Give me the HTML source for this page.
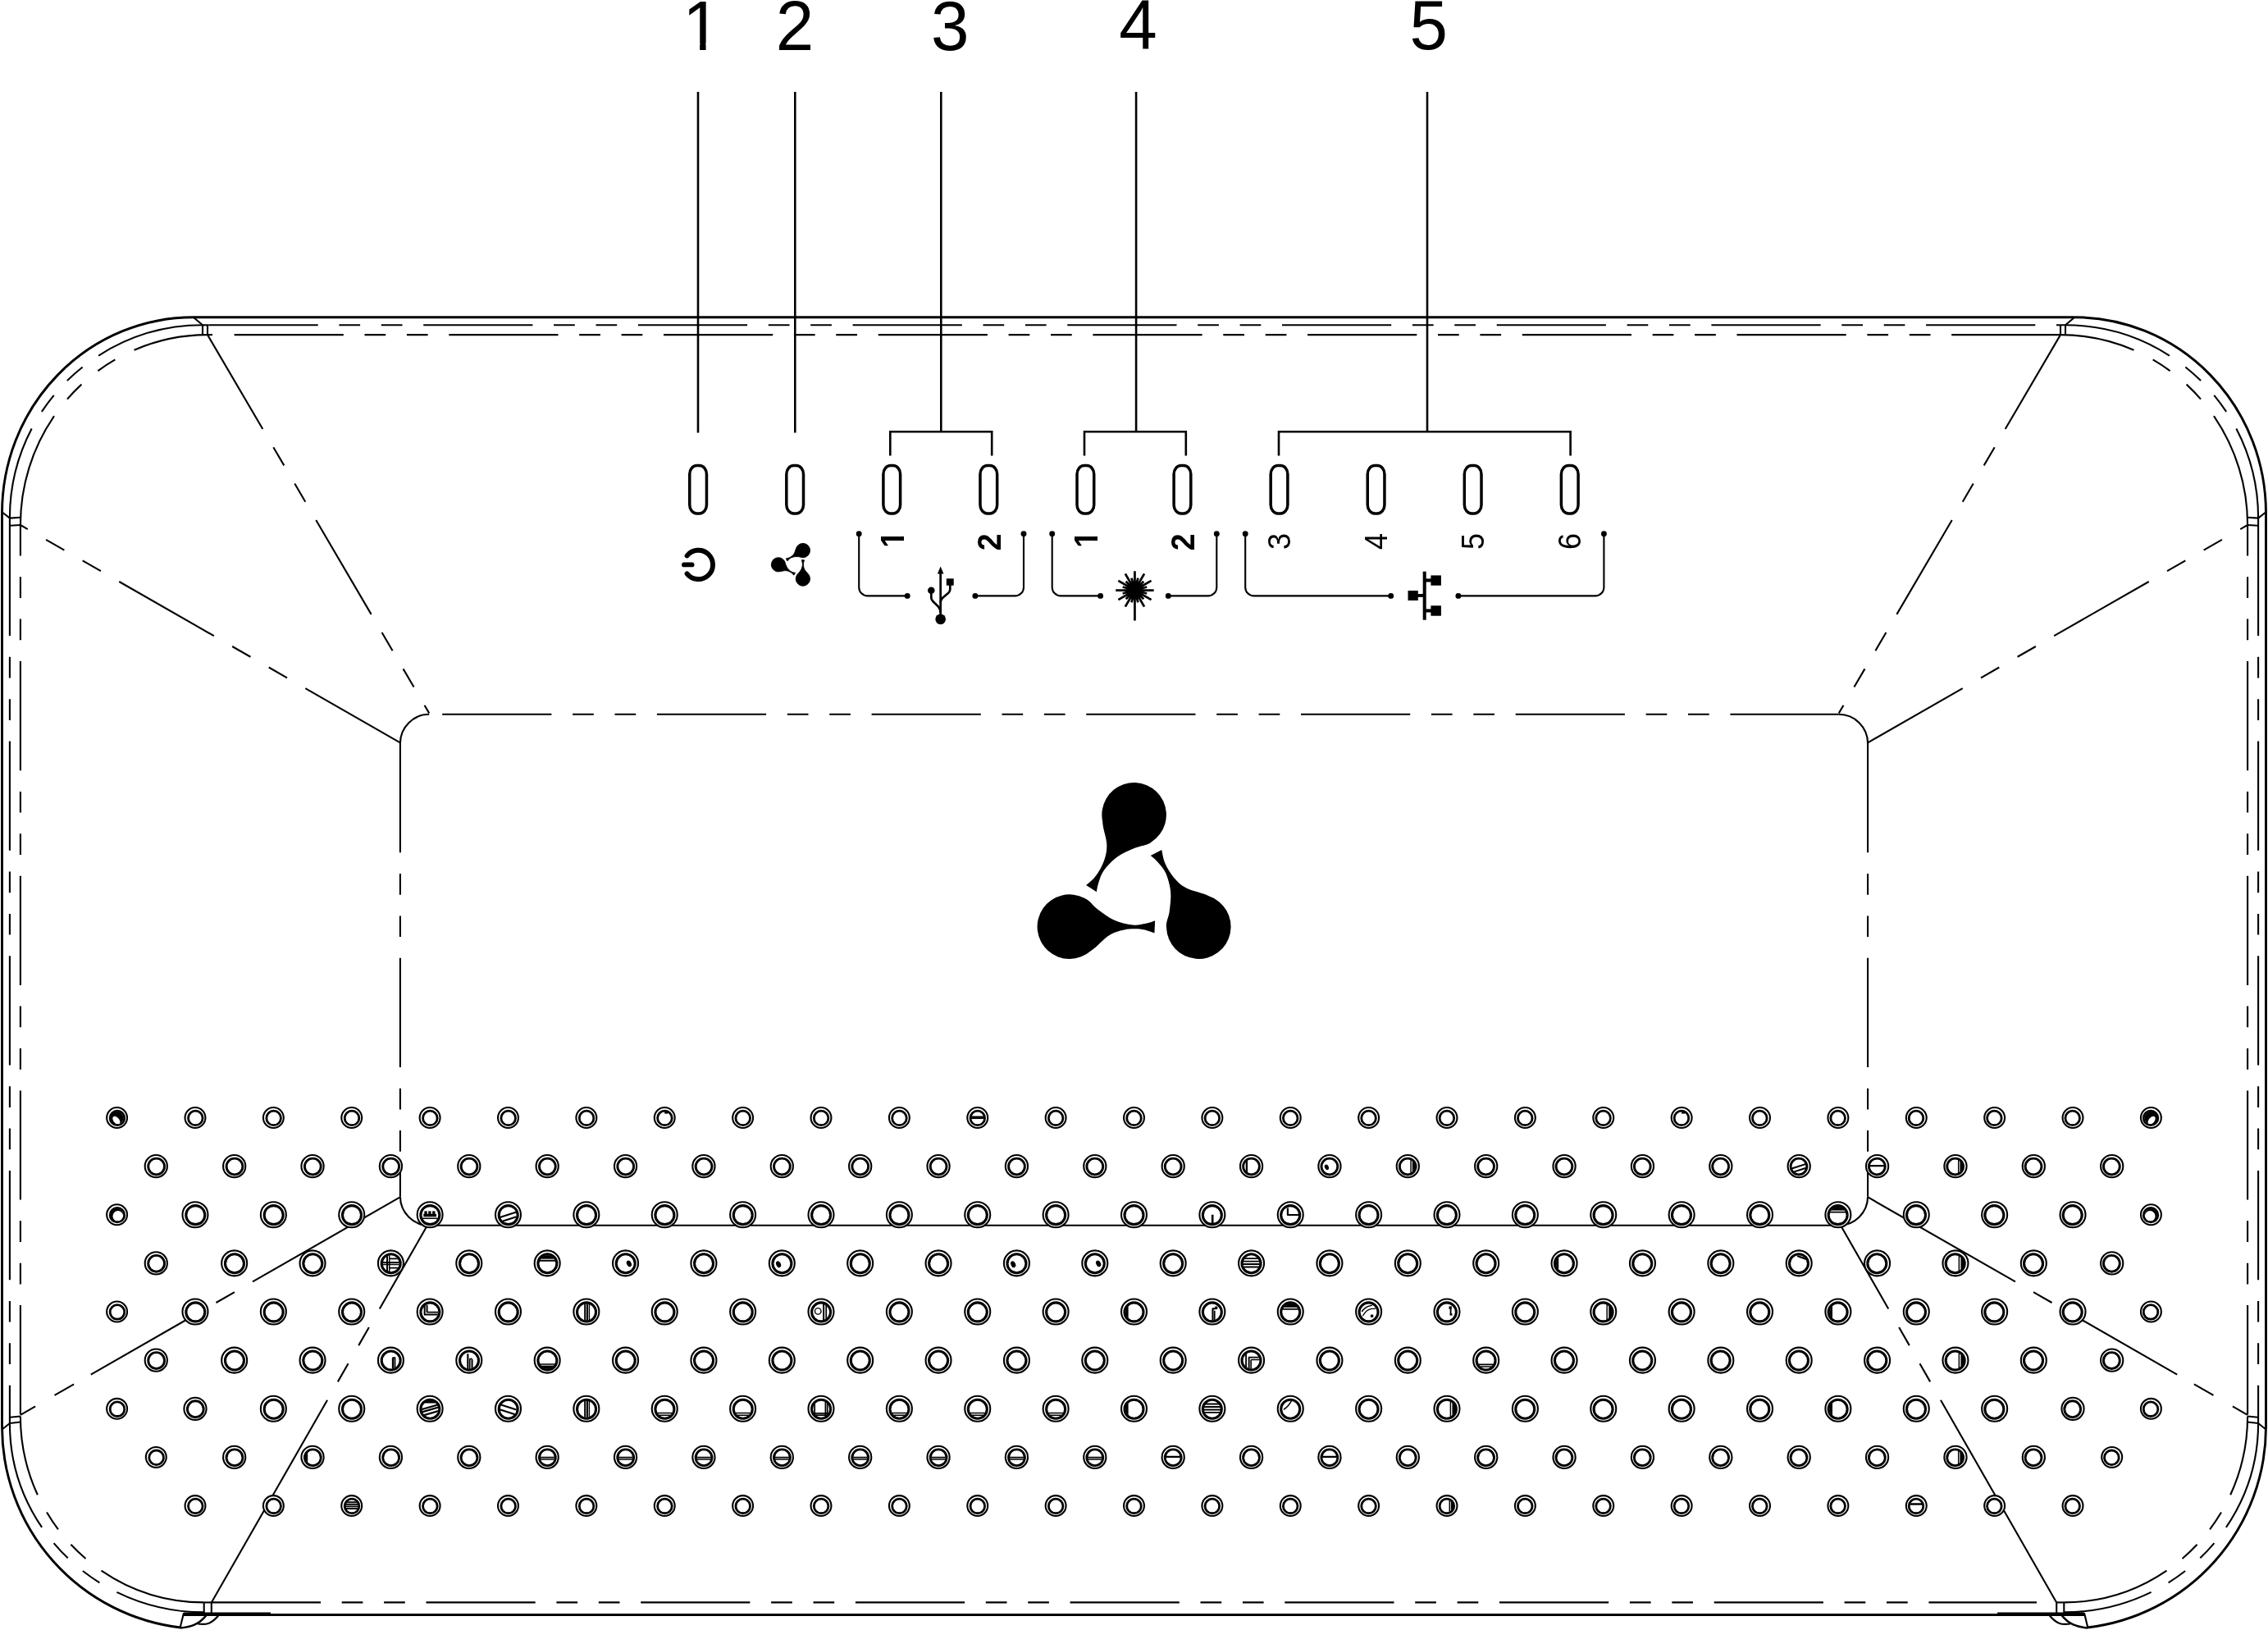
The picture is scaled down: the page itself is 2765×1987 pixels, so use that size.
<!DOCTYPE html>
<html lang="en"><head><meta charset="utf-8"><title>Front panel LEDs</title>
<style>html,body{margin:0;padding:0;background:#fff}svg{display:block}text{font-family:"Liberation Sans",sans-serif;fill:#000;stroke:none}</style></head><body>
<svg width="2765" height="1987" viewBox="0 0 2765 1987" fill="none" stroke="#000" stroke-linecap="butt" stroke-linejoin="round">
<rect x="0" y="0" width="2765" height="1987" fill="#fff" stroke="none"/>
<g id="body">
<path d="M 2529.2 386.7 L 235.8 386.7 A 233.3 238.7 0 0 0 2.5 625.4 L 2.5 1739.3 A 246.4 246.4 0 0 0 220 1984" stroke-width="2.9" fill="none"/>
<path d="M 2529.2 386.7 A 233.3 238.7 0 0 1 2762.5 625.4 L 2762.5 1739.3 A 246.4 246.4 0 0 1 2545 1984" stroke-width="2.9" fill="none"/>
<line x1="224" y1="1968.4" x2="2541" y2="1968.4" stroke-width="3"/>
<line x1="224" y1="1966.4" x2="330" y2="1966.4" stroke-width="2"/>
<line x1="2541" y1="1966.4" x2="2435" y2="1966.4" stroke-width="2"/>
<path d="M 224 1966.3 L 219.6 1984.3" stroke-width="2.1" fill="none"/>
<path d="M 220 1984.5 C 233 1983.5 243 1980 252 1968.5" stroke-width="2.6" fill="none"/>
<path d="M 241 1979.5 C 252 1981 258 1979.5 267 1968.5" stroke-width="2.2" fill="none"/>
<path d="M 2541 1966.3 L 2545.4 1984.3" stroke-width="2.1" fill="none"/>
<path d="M 2545 1984.5 C 2532 1983.5 2522 1980 2513 1968.5" stroke-width="2.6" fill="none"/>
<path d="M 2524 1979.5 C 2513 1981 2507 1979.5 2498 1968.5" stroke-width="2.2" fill="none"/>
<line x1="247" y1="396.3" x2="254.5" y2="396.3" stroke-width="2.1"/>
<line x1="254.5" y1="396.3" x2="2518" y2="396.3" stroke-width="2.1" stroke-dasharray="133.2 25.7 25.7 25.7 25.7 25.7"/>
<line x1="253" y1="408.1" x2="259" y2="408.1" stroke-width="2.1"/>
<line x1="285.6" y1="408.1" x2="2512" y2="408.1" stroke-width="2.1" stroke-dasharray="133.2 25.7 25.7 25.7 25.7 25.7"/>
<line x1="257.8" y1="1953.4" x2="2483" y2="1953.4" stroke-width="2.1" stroke-dasharray="133.2 25.7 25.7 25.7 25.7 25.7"/>
<line x1="235.8" y1="386.7" x2="247" y2="396.3" stroke-width="2.1"/>
<line x1="247" y1="396.3" x2="247" y2="408.1" stroke-width="2.1"/>
<line x1="253" y1="396.3" x2="253" y2="408.1" stroke-width="2.1"/>
<line x1="2.5" y1="624.2" x2="11.9" y2="631.6" stroke-width="2.1"/>
<path d="M 11.9 631.6 L 24.9 630.8" stroke-width="2.1" fill="none"/>
<path d="M 11.9 640.8 L 24.9 640" stroke-width="2.1" fill="none"/>
<line x1="2.5" y1="1742.5" x2="11.9" y2="1735" stroke-width="2.1"/>
<path d="M 11.9 1735 L 24.9 1733.5" stroke-width="2.1" fill="none"/>
<path d="M 11.9 1727.7 L 24.9 1726.5" stroke-width="2.1" fill="none"/>
<line x1="248.7" y1="1953.4" x2="248.7" y2="1966.5" stroke-width="2.1"/>
<line x1="257.8" y1="1953.4" x2="257.8" y2="1966.5" stroke-width="2.1"/>
<line x1="248.7" y1="1953.4" x2="257.8" y2="1953.4" stroke-width="2.1"/>
<path d="M 247 396.3 A 235.1 235.3 0 0 0 11.9 631.6" stroke-width="2.1" fill="none" stroke-dasharray="134 24 25 24 25 24 140"/>
<path d="M 253 408.1 A 228.1 231.9 0 0 0 24.9 640" stroke-width="2.1" fill="none" stroke-dasharray="92 26 25 26 25 26 150"/>
<line x1="11.9" y1="631.6" x2="11.9" y2="642" stroke-width="2.1"/>
<line x1="11.9" y1="631.6" x2="11.9" y2="1735" stroke-width="2.1" stroke-dasharray="133.2 25.7 25.7 25.7 25.7 25.7" stroke-dashoffset="251.4"/>
<line x1="24.9" y1="640" x2="24.9" y2="1726.5" stroke-width="2.1" stroke-dasharray="133.2 25.7 25.7 25.7 25.7 25.7" stroke-dashoffset="95.7"/>
<path d="M 248.7 1965.4 A 236.8 230.4 0 0 1 11.9 1735" stroke-width="2.1" fill="none" stroke-dasharray="110 24 25 24 25 24 160"/>
<path d="M 248.7 1953.4 A 223.8 226.9 0 0 1 24.9 1726.5" stroke-width="2.1" fill="none" stroke-dasharray="133 24 25 24 25 24 120"/>
<line x1="2529.2" y1="386.7" x2="2518" y2="396.3" stroke-width="2.1"/>
<line x1="2518" y1="396.3" x2="2518" y2="408.1" stroke-width="2.1"/>
<line x1="2512" y1="396.3" x2="2512" y2="408.1" stroke-width="2.1"/>
<line x1="2762.5" y1="624.2" x2="2753.1" y2="631.6" stroke-width="2.1"/>
<path d="M 2753.1 631.6 L 2740.1 630.8" stroke-width="2.1" fill="none"/>
<path d="M 2753.1 640.8 L 2740.1 640" stroke-width="2.1" fill="none"/>
<line x1="2762.5" y1="1742.5" x2="2753.1" y2="1735" stroke-width="2.1"/>
<path d="M 2753.1 1735 L 2740.1 1733.5" stroke-width="2.1" fill="none"/>
<path d="M 2753.1 1727.7 L 2740.1 1726.5" stroke-width="2.1" fill="none"/>
<line x1="2516.3" y1="1953.4" x2="2516.3" y2="1966.5" stroke-width="2.1"/>
<line x1="2507.2" y1="1953.4" x2="2507.2" y2="1966.5" stroke-width="2.1"/>
<line x1="2516.3" y1="1953.4" x2="2507.2" y2="1953.4" stroke-width="2.1"/>
<path d="M 2518 396.3 A 235.1 235.3 0 0 1 2753.1 631.6" stroke-width="2.1" fill="none" stroke-dasharray="134 24 25 24 25 24 140"/>
<path d="M 2512 408.1 A 228.1 231.9 0 0 1 2740.1 640" stroke-width="2.1" fill="none" stroke-dasharray="92 26 25 26 25 26 150"/>
<line x1="2753.1" y1="631.6" x2="2753.1" y2="642" stroke-width="2.1"/>
<line x1="2753.1" y1="631.6" x2="2753.1" y2="1735" stroke-width="2.1" stroke-dasharray="133.2 25.7 25.7 25.7 25.7 25.7" stroke-dashoffset="251.4"/>
<line x1="2740.1" y1="640" x2="2740.1" y2="1726.5" stroke-width="2.1" stroke-dasharray="133.2 25.7 25.7 25.7 25.7 25.7" stroke-dashoffset="95.7"/>
<path d="M 2516.3 1965.4 A 236.8 230.4 0 0 0 2753.1 1735" stroke-width="2.1" fill="none" stroke-dasharray="110 24 25 24 25 24 160"/>
<path d="M 2516.3 1953.4 A 223.8 226.9 0 0 0 2740.1 1726.5" stroke-width="2.1" fill="none" stroke-dasharray="133 24 25 24 25 24 120"/>
</g>
<g id="inner">
<line x1="539.2" y1="870.8" x2="2241.8" y2="870.8" stroke-width="2.1" stroke-dasharray="133.2 25.7 25.7 25.7 25.7 25.7"/>
<path d="M 487.9 906.1 A 35.3 35.3 0 0 1 523.2 870.8" stroke-width="2.1" fill="none"/>
<line x1="487.9" y1="906.1" x2="487.9" y2="1458.5" stroke-width="2.1" stroke-dasharray="133.2 25.7 25.7 25.7 25.7 25.7"/>
<path d="M 2277.1 906.1 A 35.3 35.3 0 0 0 2241.8 870.8" stroke-width="2.1" fill="none"/>
<line x1="2277.1" y1="906.1" x2="2277.1" y2="1458.5" stroke-width="2.1" stroke-dasharray="133.2 25.7 25.7 25.7 25.7 25.7"/>
<path d="M 487.9 1458.5 A 35.3 35.3 0 0 0 523.2 1493.8 L 2241.8 1493.8 A 35.3 35.3 0 0 0 2277.1 1458.5" stroke-width="2.1" fill="none"/>
</g>
<g id="diag">
<path d="M 253 408.1 L 320.32 523.03 M 333.31 545.21 L 346.3 567.39 M 359.29 589.56 L 372.28 611.74 M 385.27 633.91 L 452.59 748.85 M 465.58 771.03 L 478.57 793.2 M 491.56 815.38 L 504.55 837.55 M 517.54 859.73 L 523.2 869.4" stroke-width="2.1" fill="none"/>
<path d="M 487.9 905.3 L 372.33 839.08 M 350.03 826.3 L 327.73 813.52 M 305.43 800.75 L 283.13 787.97 M 260.83 775.19 L 145.26 708.97 M 122.96 696.19 L 100.67 683.41 M 78.37 670.64 L 56.07 657.86 M 33.77 645.08 L 24.9 640" stroke-width="2.1" fill="none"/>
<path d="M 488.1 1459.2 L 308.04 1562.45 M 285.95 1575.12 L 263.45 1588.01 M 229.96 1607.22 L 110.79 1675.55 M 90.09 1687.42 L 66.49 1700.95 M 43.1 1714.36 L 24.9 1724.8" stroke-width="2.1" fill="none"/>
<path d="M 257.8 1953.4 L 399.03 1706.77 M 411.85 1684.39 L 424.52 1662.26 M 437.19 1640.13 L 449.86 1618 M 462.76 1595.49 L 520.3 1495" stroke-width="2.1" fill="none"/>
<path d="M 2512 408.1 L 2444.68 523.03 M 2431.69 545.21 L 2418.7 567.39 M 2405.71 589.56 L 2392.72 611.74 M 2379.73 633.91 L 2312.41 748.85 M 2299.42 771.03 L 2286.43 793.2 M 2273.44 815.38 L 2260.45 837.55 M 2247.46 859.73 L 2241.8 869.4" stroke-width="2.1" fill="none"/>
<path d="M 2277.1 905.3 L 2392.67 839.08 M 2414.97 826.3 L 2437.27 813.52 M 2459.57 800.75 L 2481.87 787.97 M 2504.17 775.19 L 2619.74 708.97 M 2642.04 696.19 L 2664.33 683.41 M 2686.63 670.64 L 2708.93 657.86 M 2731.23 645.08 L 2740.1 640" stroke-width="2.1" fill="none"/>
<path d="M 2276.9 1459.2 L 2456.96 1562.45 M 2479.05 1575.12 L 2501.55 1588.01 M 2535.04 1607.22 L 2654.21 1675.55 M 2674.91 1687.42 L 2698.51 1700.95 M 2721.9 1714.36 L 2740.1 1724.8" stroke-width="2.1" fill="none"/>
<path d="M 2507.2 1953.4 L 2365.97 1706.77 M 2353.15 1684.39 L 2340.48 1662.26 M 2327.81 1640.13 L 2315.14 1618 M 2302.24 1595.49 L 2244.7 1495" stroke-width="2.1" fill="none"/>
</g>
<g id="holes">
<g stroke-width="2.1" fill="#fff"><circle cx="142.6" cy="1362.5" r="12.45"/><circle cx="237.98" cy="1362.5" r="12.45"/><circle cx="333.35" cy="1362.5" r="12.45"/><circle cx="428.73" cy="1362.5" r="12.45"/><circle cx="524.11" cy="1362.5" r="12.45"/><circle cx="619.48" cy="1362.5" r="12.45"/><circle cx="714.86" cy="1362.5" r="12.45"/><circle cx="810.24" cy="1362.5" r="12.45"/><circle cx="905.62" cy="1362.5" r="12.45"/><circle cx="1000.99" cy="1362.5" r="12.45"/><circle cx="1096.37" cy="1362.5" r="12.45"/><circle cx="1191.75" cy="1362.5" r="12.45"/><circle cx="1287.12" cy="1362.5" r="12.45"/><circle cx="1382.5" cy="1362.5" r="12.45"/><circle cx="1477.88" cy="1362.5" r="12.45"/><circle cx="1573.25" cy="1362.5" r="12.45"/><circle cx="1668.63" cy="1362.5" r="12.45"/><circle cx="1764.01" cy="1362.5" r="12.45"/><circle cx="1859.38" cy="1362.5" r="12.45"/><circle cx="1954.76" cy="1362.5" r="12.45"/><circle cx="2050.14" cy="1362.5" r="12.45"/><circle cx="2145.52" cy="1362.5" r="12.45"/><circle cx="2240.89" cy="1362.5" r="12.45"/><circle cx="2336.27" cy="1362.5" r="12.45"/><circle cx="2431.65" cy="1362.5" r="12.45"/><circle cx="2527.02" cy="1362.5" r="12.45"/><circle cx="2622.4" cy="1362.5" r="12.45"/><circle cx="190.29" cy="1421.63" r="13.6"/><circle cx="285.67" cy="1421.63" r="13.6"/><circle cx="381.04" cy="1421.63" r="13.6"/><circle cx="476.42" cy="1421.63" r="13.6"/><circle cx="571.8" cy="1421.63" r="13.6"/><circle cx="667.17" cy="1421.63" r="13.6"/><circle cx="762.55" cy="1421.63" r="13.6"/><circle cx="857.93" cy="1421.63" r="13.6"/><circle cx="953.3" cy="1421.63" r="13.6"/><circle cx="1048.68" cy="1421.63" r="13.6"/><circle cx="1144.06" cy="1421.63" r="13.6"/><circle cx="1239.43" cy="1421.63" r="13.6"/><circle cx="1334.81" cy="1421.63" r="13.6"/><circle cx="1430.19" cy="1421.63" r="13.6"/><circle cx="1525.57" cy="1421.63" r="13.6"/><circle cx="1620.94" cy="1421.63" r="13.6"/><circle cx="1716.32" cy="1421.63" r="13.6"/><circle cx="1811.7" cy="1421.63" r="13.6"/><circle cx="1907.07" cy="1421.63" r="13.6"/><circle cx="2002.45" cy="1421.63" r="13.6"/><circle cx="2097.83" cy="1421.63" r="13.6"/><circle cx="2193.2" cy="1421.63" r="13.6"/><circle cx="2288.58" cy="1421.63" r="13.6"/><circle cx="2383.96" cy="1421.63" r="13.6"/><circle cx="2479.33" cy="1421.63" r="13.6"/><circle cx="2574.71" cy="1421.63" r="13.6"/><circle cx="142.6" cy="1480.76" r="12.45"/><circle cx="237.98" cy="1480.76" r="15.5"/><circle cx="333.35" cy="1480.76" r="15.5"/><circle cx="428.73" cy="1480.76" r="15.5"/><circle cx="524.11" cy="1480.76" r="15.5"/><circle cx="619.48" cy="1480.76" r="15.5"/><circle cx="714.86" cy="1480.76" r="15.5"/><circle cx="810.24" cy="1480.76" r="15.5"/><circle cx="905.62" cy="1480.76" r="15.5"/><circle cx="1000.99" cy="1480.76" r="15.5"/><circle cx="1096.37" cy="1480.76" r="15.5"/><circle cx="1191.75" cy="1480.76" r="15.5"/><circle cx="1287.12" cy="1480.76" r="15.5"/><circle cx="1382.5" cy="1480.76" r="15.5"/><circle cx="1477.88" cy="1480.76" r="15.5"/><circle cx="1573.25" cy="1480.76" r="15.5"/><circle cx="1668.63" cy="1480.76" r="15.5"/><circle cx="1764.01" cy="1480.76" r="15.5"/><circle cx="1859.38" cy="1480.76" r="15.5"/><circle cx="1954.76" cy="1480.76" r="15.5"/><circle cx="2050.14" cy="1480.76" r="15.5"/><circle cx="2145.52" cy="1480.76" r="15.5"/><circle cx="2240.89" cy="1480.76" r="15.5"/><circle cx="2336.27" cy="1480.76" r="15.5"/><circle cx="2431.65" cy="1480.76" r="15.5"/><circle cx="2527.02" cy="1480.76" r="15.5"/><circle cx="2622.4" cy="1480.76" r="12.45"/><circle cx="190.29" cy="1539.89" r="13.6"/><circle cx="285.67" cy="1539.89" r="15.5"/><circle cx="381.04" cy="1539.89" r="15.5"/><circle cx="476.42" cy="1539.89" r="15.5"/><circle cx="571.8" cy="1539.89" r="15.5"/><circle cx="667.17" cy="1539.89" r="15.5"/><circle cx="762.55" cy="1539.89" r="15.5"/><circle cx="857.93" cy="1539.89" r="15.5"/><circle cx="953.3" cy="1539.89" r="15.5"/><circle cx="1048.68" cy="1539.89" r="15.5"/><circle cx="1144.06" cy="1539.89" r="15.5"/><circle cx="1239.43" cy="1539.89" r="15.5"/><circle cx="1334.81" cy="1539.89" r="15.5"/><circle cx="1430.19" cy="1539.89" r="15.5"/><circle cx="1525.57" cy="1539.89" r="15.5"/><circle cx="1620.94" cy="1539.89" r="15.5"/><circle cx="1716.32" cy="1539.89" r="15.5"/><circle cx="1811.7" cy="1539.89" r="15.5"/><circle cx="1907.07" cy="1539.89" r="15.5"/><circle cx="2002.45" cy="1539.89" r="15.5"/><circle cx="2097.83" cy="1539.89" r="15.5"/><circle cx="2193.2" cy="1539.89" r="15.5"/><circle cx="2288.58" cy="1539.89" r="15.5"/><circle cx="2383.96" cy="1539.89" r="15.5"/><circle cx="2479.33" cy="1539.89" r="15.5"/><circle cx="2574.71" cy="1539.89" r="13.6"/><circle cx="142.6" cy="1599.02" r="12.45"/><circle cx="237.98" cy="1599.02" r="15.5"/><circle cx="333.35" cy="1599.02" r="15.5"/><circle cx="428.73" cy="1599.02" r="15.5"/><circle cx="524.11" cy="1599.02" r="15.5"/><circle cx="619.48" cy="1599.02" r="15.5"/><circle cx="714.86" cy="1599.02" r="15.5"/><circle cx="810.24" cy="1599.02" r="15.5"/><circle cx="905.62" cy="1599.02" r="15.5"/><circle cx="1000.99" cy="1599.02" r="15.5"/><circle cx="1096.37" cy="1599.02" r="15.5"/><circle cx="1191.75" cy="1599.02" r="15.5"/><circle cx="1287.12" cy="1599.02" r="15.5"/><circle cx="1382.5" cy="1599.02" r="15.5"/><circle cx="1477.88" cy="1599.02" r="15.5"/><circle cx="1573.25" cy="1599.02" r="15.5"/><circle cx="1668.63" cy="1599.02" r="15.5"/><circle cx="1764.01" cy="1599.02" r="15.5"/><circle cx="1859.38" cy="1599.02" r="15.5"/><circle cx="1954.76" cy="1599.02" r="15.5"/><circle cx="2050.14" cy="1599.02" r="15.5"/><circle cx="2145.52" cy="1599.02" r="15.5"/><circle cx="2240.89" cy="1599.02" r="15.5"/><circle cx="2336.27" cy="1599.02" r="15.5"/><circle cx="2431.65" cy="1599.02" r="15.5"/><circle cx="2527.02" cy="1599.02" r="15.5"/><circle cx="2622.4" cy="1599.02" r="12.45"/><circle cx="190.29" cy="1658.15" r="13.6"/><circle cx="285.67" cy="1658.15" r="15.5"/><circle cx="381.04" cy="1658.15" r="15.5"/><circle cx="476.42" cy="1658.15" r="15.5"/><circle cx="571.8" cy="1658.15" r="15.5"/><circle cx="667.17" cy="1658.15" r="15.5"/><circle cx="762.55" cy="1658.15" r="15.5"/><circle cx="857.93" cy="1658.15" r="15.5"/><circle cx="953.3" cy="1658.15" r="15.5"/><circle cx="1048.68" cy="1658.15" r="15.5"/><circle cx="1144.06" cy="1658.15" r="15.5"/><circle cx="1239.43" cy="1658.15" r="15.5"/><circle cx="1334.81" cy="1658.15" r="15.5"/><circle cx="1430.19" cy="1658.15" r="15.5"/><circle cx="1525.57" cy="1658.15" r="15.5"/><circle cx="1620.94" cy="1658.15" r="15.5"/><circle cx="1716.32" cy="1658.15" r="15.5"/><circle cx="1811.7" cy="1658.15" r="15.5"/><circle cx="1907.07" cy="1658.15" r="15.5"/><circle cx="2002.45" cy="1658.15" r="15.5"/><circle cx="2097.83" cy="1658.15" r="15.5"/><circle cx="2193.2" cy="1658.15" r="15.5"/><circle cx="2288.58" cy="1658.15" r="15.5"/><circle cx="2383.96" cy="1658.15" r="15.5"/><circle cx="2479.33" cy="1658.15" r="15.5"/><circle cx="2574.71" cy="1658.15" r="13.6"/><circle cx="142.6" cy="1717.28" r="12.45"/><circle cx="237.98" cy="1717.28" r="13.6"/><circle cx="333.35" cy="1717.28" r="15.5"/><circle cx="428.73" cy="1717.28" r="15.5"/><circle cx="524.11" cy="1717.28" r="15.5"/><circle cx="619.48" cy="1717.28" r="15.5"/><circle cx="714.86" cy="1717.28" r="15.5"/><circle cx="810.24" cy="1717.28" r="15.5"/><circle cx="905.62" cy="1717.28" r="15.5"/><circle cx="1000.99" cy="1717.28" r="15.5"/><circle cx="1096.37" cy="1717.28" r="15.5"/><circle cx="1191.75" cy="1717.28" r="15.5"/><circle cx="1287.12" cy="1717.28" r="15.5"/><circle cx="1382.5" cy="1717.28" r="15.5"/><circle cx="1477.88" cy="1717.28" r="15.5"/><circle cx="1573.25" cy="1717.28" r="15.5"/><circle cx="1668.63" cy="1717.28" r="15.5"/><circle cx="1764.01" cy="1717.28" r="15.5"/><circle cx="1859.38" cy="1717.28" r="15.5"/><circle cx="1954.76" cy="1717.28" r="15.5"/><circle cx="2050.14" cy="1717.28" r="15.5"/><circle cx="2145.52" cy="1717.28" r="15.5"/><circle cx="2240.89" cy="1717.28" r="15.5"/><circle cx="2336.27" cy="1717.28" r="15.5"/><circle cx="2431.65" cy="1717.28" r="15.5"/><circle cx="2527.02" cy="1717.28" r="13.6"/><circle cx="2622.4" cy="1717.28" r="12.45"/><circle cx="190.29" cy="1776.41" r="12.45"/><circle cx="285.67" cy="1776.41" r="13.6"/><circle cx="381.04" cy="1776.41" r="13.6"/><circle cx="476.42" cy="1776.41" r="13.6"/><circle cx="571.8" cy="1776.41" r="13.6"/><circle cx="667.17" cy="1776.41" r="13.6"/><circle cx="762.55" cy="1776.41" r="13.6"/><circle cx="857.93" cy="1776.41" r="13.6"/><circle cx="953.3" cy="1776.41" r="13.6"/><circle cx="1048.68" cy="1776.41" r="13.6"/><circle cx="1144.06" cy="1776.41" r="13.6"/><circle cx="1239.43" cy="1776.41" r="13.6"/><circle cx="1334.81" cy="1776.41" r="13.6"/><circle cx="1430.19" cy="1776.41" r="13.6"/><circle cx="1525.57" cy="1776.41" r="13.6"/><circle cx="1620.94" cy="1776.41" r="13.6"/><circle cx="1716.32" cy="1776.41" r="13.6"/><circle cx="1811.7" cy="1776.41" r="13.6"/><circle cx="1907.07" cy="1776.41" r="13.6"/><circle cx="2002.45" cy="1776.41" r="13.6"/><circle cx="2097.83" cy="1776.41" r="13.6"/><circle cx="2193.2" cy="1776.41" r="13.6"/><circle cx="2288.58" cy="1776.41" r="13.6"/><circle cx="2383.96" cy="1776.41" r="13.6"/><circle cx="2479.33" cy="1776.41" r="13.6"/><circle cx="2574.71" cy="1776.41" r="12.45"/><circle cx="237.98" cy="1835.54" r="12.45"/><circle cx="333.35" cy="1835.54" r="12.45"/><circle cx="428.73" cy="1835.54" r="12.45"/><circle cx="524.11" cy="1835.54" r="12.45"/><circle cx="619.48" cy="1835.54" r="12.45"/><circle cx="714.86" cy="1835.54" r="12.45"/><circle cx="810.24" cy="1835.54" r="12.45"/><circle cx="905.62" cy="1835.54" r="12.45"/><circle cx="1000.99" cy="1835.54" r="12.45"/><circle cx="1096.37" cy="1835.54" r="12.45"/><circle cx="1191.75" cy="1835.54" r="12.45"/><circle cx="1287.12" cy="1835.54" r="12.45"/><circle cx="1382.5" cy="1835.54" r="12.45"/><circle cx="1477.88" cy="1835.54" r="12.45"/><circle cx="1573.25" cy="1835.54" r="12.45"/><circle cx="1668.63" cy="1835.54" r="12.45"/><circle cx="1764.01" cy="1835.54" r="12.45"/><circle cx="1859.38" cy="1835.54" r="12.45"/><circle cx="1954.76" cy="1835.54" r="12.45"/><circle cx="2050.14" cy="1835.54" r="12.45"/><circle cx="2145.52" cy="1835.54" r="12.45"/><circle cx="2240.89" cy="1835.54" r="12.45"/><circle cx="2336.27" cy="1835.54" r="12.45"/><circle cx="2431.65" cy="1835.54" r="12.45"/><circle cx="2527.02" cy="1835.54" r="12.45"/></g>
<defs><clipPath id="cs"><circle cx="0" cy="0.4" r="7.8"/></clipPath><clipPath id="cm"><circle cx="0" cy="0.4" r="8.85"/></clipPath><clipPath id="cb"><circle cx="0" cy="0.4" r="10.35"/></clipPath></defs>
<g id="inside"><g transform="translate(142.6 1362.5)" clip-path="url(#cs)"><rect x="-10.85" y="-10.85" width="21.7" height="21.7" fill="#000" stroke="none"/><ellipse cx="-2.63" cy="2.01" rx="3.41" ry="5.73" transform="rotate(-40)" fill="#fff" stroke="none"/></g><g transform="translate(810.24 1362.5)" clip-path="url(#cs)"><rect x="0" y="-10.85" width="3.87" height="5.97" fill="#000" stroke="none"/></g><g transform="translate(1191.75 1362.5)" clip-path="url(#cs)"><rect x="-10.85" y="-2.01" width="21.7" height="3.56" fill="#000" stroke="none"/></g><g transform="translate(2050.14 1362.5)" clip-path="url(#cs)"><rect x="0" y="-10.85" width="3.87" height="5.97" fill="#000" stroke="none"/></g><g transform="translate(2622.4 1362.5)" clip-path="url(#cs)"><rect x="-10.85" y="-10.85" width="21.7" height="21.7" fill="#000" stroke="none"/><ellipse cx="2.63" cy="2.01" rx="3.41" ry="5.73" transform="rotate(40)" fill="#fff" stroke="none"/></g><g transform="translate(1525.57 1421.63)" clip-path="url(#cm)"><path d="M -5.66 -12.39 L -5.66 12.39" stroke-width="2.32"/></g><g transform="translate(1620.94 1421.63)" clip-path="url(#cm)"><ellipse cx="-3.72" cy="-0.44" rx="2.39" ry="3.45" transform="rotate(-25)" fill="#000" stroke="none"/></g><g transform="translate(1716.32 1421.63)" clip-path="url(#cm)"><rect x="5.49" y="-12.39" width="12.39" height="24.77" fill="#000" stroke="none"/><path d="M 3.72 -12.39 L 3.72 12.39" stroke-width="1.45"/></g><g transform="translate(2193.2 1421.63)" clip-path="url(#cm)"><path d="M -12.39 3.98 L 12.39 -3.98" stroke-width="2.03"/><path d="M -12.39 8.85 L 12.39 0.88" stroke-width="2.03"/></g><g transform="translate(2288.58 1421.63)" clip-path="url(#cm)"><path d="M -12.39 -0.53 L 12.39 -0.53" stroke-width="2.32"/></g><g transform="translate(2383.96 1421.63)" clip-path="url(#cm)"><rect x="5.49" y="-12.39" width="12.39" height="24.77" fill="#000" stroke="none"/><path d="M 3.72 -12.39 L 3.72 12.39" stroke-width="1.45"/></g><g transform="translate(142.6 1480.76)" clip-path="url(#cs)"><rect x="-10.85" y="-10.85" width="21.7" height="21.7" fill="#000" stroke="none"/><circle cx="1.24" cy="1.7" r="6.35" fill="#fff" stroke="none"/></g><g transform="translate(524.11 1480.76)" clip-path="url(#cb)"><rect x="-7.81" y="-1.04" width="15.63" height="3.54" fill="#000" stroke="none"/><rect x="-6.77" y="-4.38" width="3.33" height="3.54" fill="#000" stroke="none"/><rect x="-1.88" y="-4.38" width="3.33" height="3.54" fill="#000" stroke="none"/><rect x="3.02" y="-4.38" width="3.33" height="3.54" fill="#000" stroke="none"/><path d="M -14.59 4.58 L 14.59 4.58" stroke-width="1.45"/></g><g transform="translate(619.48 1480.76)" clip-path="url(#cb)"><path d="M -14.59 4.69 L 14.59 -4.69" stroke-width="2.03"/><path d="M -14.59 10.42 L 14.59 1.04" stroke-width="2.03"/></g><g transform="translate(1477.88 1480.76)" clip-path="url(#cb)"><path d="M 0.31 0 L 0.31 14.59" stroke-width="2.61"/></g><g transform="translate(1573.25 1480.76)" clip-path="url(#cb)"><path d="M -3.33 -8.34 L -3.33 0.52" stroke-width="2.17"/><path d="M -4.06 0.21 L 14.59 0.21" stroke-width="2.17"/></g><g transform="translate(2240.89 1480.76)" clip-path="url(#cb)"><rect x="-14.59" y="-14.59" width="29.17" height="9.38" fill="#000" stroke="none"/><path d="M -14.59 -3.13 L 14.59 -3.13" stroke-width="1.89"/></g><g transform="translate(2622.4 1480.76)" clip-path="url(#cs)"><rect x="-10.85" y="-10.85" width="21.7" height="21.7" fill="#000" stroke="none"/><circle cx="-1.24" cy="1.7" r="6.35" fill="#fff" stroke="none"/></g><g transform="translate(476.42 1539.89)" clip-path="url(#cb)"><path d="M -14.59 -0.83 L 14.59 -0.83" stroke-width="2.03"/><path d="M -14.59 1.67 L 14.59 1.67" stroke-width="1.45"/><path d="M -4.38 -14.59 L -4.38 14.59" stroke-width="2.03"/><path d="M -1.67 -14.59 L -1.67 14.59" stroke-width="1.45"/><path d="M -1.67 -5.63 L 14.59 -5.63" stroke-width="1.74"/><path d="M -1.67 5.83 L 14.59 5.83" stroke-width="1.74"/></g><g transform="translate(667.17 1539.89)" clip-path="url(#cb)"><rect x="-14.59" y="-14.59" width="29.17" height="9.38" fill="#000" stroke="none"/><path d="M -14.59 -3.13 L 14.59 -3.13" stroke-width="1.89"/></g><g transform="translate(762.55 1539.89)" clip-path="url(#cb)"><ellipse cx="3.75" cy="2.29" rx="2.81" ry="4.06" transform="rotate(-25)" fill="#000" stroke="none"/></g><g transform="translate(953.3 1539.89)" clip-path="url(#cb)"><ellipse cx="-4.38" cy="-0.52" rx="2.81" ry="4.06" transform="rotate(-25)" fill="#000" stroke="none"/></g><g transform="translate(1239.43 1539.89)" clip-path="url(#cb)"><ellipse cx="-4.38" cy="-0.52" rx="2.81" ry="4.06" transform="rotate(-25)" fill="#000" stroke="none"/></g><g transform="translate(1334.81 1539.89)" clip-path="url(#cb)"><ellipse cx="3.75" cy="2.29" rx="2.81" ry="4.06" transform="rotate(-25)" fill="#000" stroke="none"/></g><g transform="translate(1525.57 1539.89)" clip-path="url(#cb)"><path d="M -14.59 -5.73 L 14.59 -5.73" stroke-width="1.89"/><path d="M -14.59 -2.29 L 14.59 -2.29" stroke-width="1.89"/><path d="M -14.59 1.15 L 14.59 1.15" stroke-width="1.89"/><path d="M -14.59 4.58 L 14.59 4.58" stroke-width="1.89"/></g><g transform="translate(1907.07 1539.89)" clip-path="url(#cb)"><rect x="-14.59" y="-14.59" width="7.71" height="29.17" fill="#000" stroke="none"/></g><g transform="translate(2193.2 1539.89)" clip-path="url(#cb)"><path d="M -2.08 -8.86 L 9.38 -4.69" stroke-width="2.32"/></g><g transform="translate(2383.96 1539.89)" clip-path="url(#cb)"><rect x="6.46" y="-14.59" width="14.59" height="29.17" fill="#000" stroke="none"/><path d="M 4.38 -14.59 L 4.38 14.59" stroke-width="1.45"/></g><g transform="translate(524.11 1599.02)" clip-path="url(#cb)"><path d="M -6.46 -8.34 L -6.46 3.54" stroke-width="2.03"/><path d="M -3.54 -8.34 L -3.54 1.04" stroke-width="2.03"/><path d="M -7.19 3.54 L 14.59 3.54" stroke-width="2.03"/><path d="M -3.54 0.63 L 14.59 0.63" stroke-width="1.74"/></g><g transform="translate(714.86 1599.02)" clip-path="url(#cb)"><path d="M -1.67 -14.59 L -1.67 14.59" stroke-width="2.03"/><path d="M 1.04 -14.59 L 1.04 14.59" stroke-width="2.03"/><path d="M 3.54 -14.59 L 3.54 14.59" stroke-width="1.45"/></g><g transform="translate(1000.99 1599.02)" clip-path="url(#cb)"><circle cx="-3.75" cy="-0.63" r="3.75" stroke-width="1.4"/><path d="M 3.13 -14.59 L 3.13 14.59" stroke-width="2.03"/><path d="M 6.25 -14.59 L 6.25 14.59" stroke-width="1.74"/></g><g transform="translate(1382.5 1599.02)" clip-path="url(#cb)"><rect x="-14.59" y="-14.59" width="7.71" height="29.17" fill="#000" stroke="none"/></g><g transform="translate(1477.88 1599.02)" clip-path="url(#cb)"><path d="M 0.63 -3.75 L 0.63 14.59" stroke-width="2.17"/><path d="M 2.92 -1.25 L 2.92 14.59" stroke-width="1.59"/><path d="M 0 -3.75 L 4.79 -3.75" stroke-width="2.17"/><rect x="3.33" y="-6.46" width="3.13" height="3.33" fill="#000" stroke="none"/></g><g transform="translate(1573.25 1599.02)" clip-path="url(#cb)"><rect x="-14.59" y="-14.59" width="29.17" height="9.38" fill="#000" stroke="none"/><path d="M -14.59 -3.13 L 14.59 -3.13" stroke-width="1.89"/></g><g transform="translate(1668.63 1599.02)" clip-path="url(#cb)"><path d="M -8.34 0 Q -4.17 -6.77 4.17 -7.81" stroke-width="1.6"/><path d="M -7.29 5.21 Q -3.13 -2.6 3.65 -3.65 L 8.34 -3.65" stroke-width="1.4"/><rect x="2.29" y="3.54" width="3.33" height="3.33" fill="#000" stroke="none"/></g><g transform="translate(1764.01 1599.02)" clip-path="url(#cb)"><rect x="2.5" y="-6.67" width="3.33" height="3.54" fill="#000" stroke="none"/><path d="M 4.58 -3.33 L 4.58 2.6" stroke-width="1.89"/><rect x="3.54" y="2.08" width="2.92" height="2.5" fill="#000" stroke="none"/></g><g transform="translate(1954.76 1599.02)" clip-path="url(#cb)"><rect x="6.46" y="-14.59" width="14.59" height="29.17" fill="#000" stroke="none"/><path d="M 4.38 -14.59 L 4.38 14.59" stroke-width="1.45"/></g><g transform="translate(2240.89 1599.02)" clip-path="url(#cb)"><rect x="-14.59" y="-14.59" width="7.71" height="29.17" fill="#000" stroke="none"/></g><g transform="translate(476.42 1658.15)" clip-path="url(#cb)"><path d="M 2.5 -2.71 L 2.5 14.59" stroke-width="2.17"/><path d="M 5 -2.71 L 5 14.59" stroke-width="1.89"/><path d="M 1.88 -2.92 L 5.83 -2.92" stroke-width="2.17"/></g><g transform="translate(571.8 1658.15)" clip-path="url(#cb)"><path d="M -1.46 -7.81 L -1.46 14.59" stroke-width="2.17"/><path d="M 0.94 -2.08 L 0.94 14.59" stroke-width="1.59"/><path d="M 3.75 -0.83 L 3.75 14.59" stroke-width="2.03"/><path d="M 0.94 -1.25 Q 3.54 -3.33 3.75 0" stroke-width="1.4"/></g><g transform="translate(667.17 1658.15)" clip-path="url(#cb)"><rect x="-14.59" y="6.46" width="29.17" height="14.59" fill="#000" stroke="none"/><path d="M -14.59 4.79 L 14.59 4.79" stroke-width="1.45"/></g><g transform="translate(1525.57 1658.15)" clip-path="url(#cb)"><path d="M -6.46 -14.59 L -6.46 14.59" stroke-width="1.89"/><path d="M -2.92 -3.54 L -2.92 14.59" stroke-width="1.89"/><path d="M -3.54 -3.54 L 14.59 -3.54" stroke-width="1.89"/><path d="M -0.42 -0.63 L -0.42 14.59" stroke-width="1.59"/><path d="M -0.42 -0.63 L 14.59 -0.63" stroke-width="1.59"/></g><g transform="translate(1811.7 1658.15)" clip-path="url(#cb)"><path d="M -14.59 5.21 L 14.59 5.21" stroke-width="1.59"/><path d="M -14.59 7.92 L 14.59 7.92" stroke-width="1.59"/></g><g transform="translate(2383.96 1658.15)" clip-path="url(#cb)"><rect x="6.46" y="-14.59" width="14.59" height="29.17" fill="#000" stroke="none"/><path d="M 4.38 -14.59 L 4.38 14.59" stroke-width="1.45"/></g><g transform="translate(524.11 1717.28)" clip-path="url(#cb)"><path d="M -14.59 2.08 L 14.59 -6.25" stroke-width="2.32"/><path d="M -14.59 5.42 L 14.59 -2.92" stroke-width="2.32"/><path d="M -14.59 9.9 L 14.59 1.56" stroke-width="2.32"/><rect x="-14.59" y="-14.59" width="29.17" height="7.81" fill="#000" stroke="none"/></g><g transform="translate(619.48 1717.28)" clip-path="url(#cb)"><path d="M -14.59 -6.77 L 14.59 2.6" stroke-width="2.03"/><path d="M -14.59 -0.52 L 14.59 8.86" stroke-width="2.03"/></g><g transform="translate(714.86 1717.28)" clip-path="url(#cb)"><path d="M -1.67 -14.59 L -1.67 14.59" stroke-width="2.03"/><path d="M 1.04 -14.59 L 1.04 14.59" stroke-width="2.03"/><path d="M 3.54 -14.59 L 3.54 14.59" stroke-width="1.45"/></g><g transform="translate(810.24 1717.28)" clip-path="url(#cb)"><path d="M -14.59 5.21 L 14.59 5.21" stroke-width="1.59"/><path d="M -14.59 7.92 L 14.59 7.92" stroke-width="1.59"/></g><g transform="translate(905.62 1717.28)" clip-path="url(#cb)"><path d="M -14.59 5.21 L 14.59 5.21" stroke-width="1.59"/><path d="M -14.59 7.92 L 14.59 7.92" stroke-width="1.59"/></g><g transform="translate(1000.99 1717.28)" clip-path="url(#cb)"><path d="M -14.59 5.63 L 14.59 5.63" stroke-width="1.74"/><path d="M -14.59 7.92 L 14.59 7.92" stroke-width="1.74"/><path d="M 5.42 -14.59 L 5.42 14.59" stroke-width="1.74"/><path d="M 7.71 -14.59 L 7.71 14.59" stroke-width="1.74"/><path d="M -7.81 -14.59 L -7.81 14.59" stroke-width="1.74"/></g><g transform="translate(1096.37 1717.28)" clip-path="url(#cb)"><path d="M -14.59 5.21 L 14.59 5.21" stroke-width="1.59"/><path d="M -14.59 7.92 L 14.59 7.92" stroke-width="1.59"/></g><g transform="translate(1191.75 1717.28)" clip-path="url(#cb)"><path d="M -14.59 5.21 L 14.59 5.21" stroke-width="1.59"/><path d="M -14.59 7.92 L 14.59 7.92" stroke-width="1.59"/></g><g transform="translate(1287.12 1717.28)" clip-path="url(#cb)"><path d="M -14.59 5.21 L 14.59 5.21" stroke-width="1.59"/><path d="M -14.59 7.92 L 14.59 7.92" stroke-width="1.59"/></g><g transform="translate(1382.5 1717.28)" clip-path="url(#cb)"><rect x="-14.59" y="-14.59" width="7.71" height="29.17" fill="#000" stroke="none"/></g><g transform="translate(1477.88 1717.28)" clip-path="url(#cb)"><path d="M -14.59 -5.73 L 14.59 -5.73" stroke-width="1.89"/><path d="M -14.59 -2.29 L 14.59 -2.29" stroke-width="1.89"/><path d="M -14.59 1.15 L 14.59 1.15" stroke-width="1.89"/><path d="M -14.59 4.58 L 14.59 4.58" stroke-width="1.89"/></g><g transform="translate(1573.25 1717.28)" clip-path="url(#cb)"><path d="M -8.34 1.04 Q -2.08 -3.13 1.04 -9.38" stroke-width="1.5"/></g><g transform="translate(1764.01 1717.28)" clip-path="url(#cb)"><rect x="6.46" y="-14.59" width="14.59" height="29.17" fill="#000" stroke="none"/><path d="M 4.38 -14.59 L 4.38 14.59" stroke-width="1.45"/></g><g transform="translate(2240.89 1717.28)" clip-path="url(#cb)"><rect x="-14.59" y="-14.59" width="7.71" height="29.17" fill="#000" stroke="none"/></g><g transform="translate(381.04 1776.41)" clip-path="url(#cm)"><rect x="-12.39" y="-12.39" width="6.55" height="24.77" fill="#000" stroke="none"/></g><g transform="translate(667.17 1776.41)" clip-path="url(#cm)"><path d="M -12.39 0.18 L 12.39 0.18" stroke-width="1.59"/><path d="M -12.39 2.57 L 12.39 2.57" stroke-width="1.59"/></g><g transform="translate(762.55 1776.41)" clip-path="url(#cm)"><path d="M -12.39 0.18 L 12.39 0.18" stroke-width="1.59"/><path d="M -12.39 2.57 L 12.39 2.57" stroke-width="1.59"/></g><g transform="translate(857.93 1776.41)" clip-path="url(#cm)"><path d="M -12.39 0.18 L 12.39 0.18" stroke-width="1.59"/><path d="M -12.39 2.57 L 12.39 2.57" stroke-width="1.59"/></g><g transform="translate(953.3 1776.41)" clip-path="url(#cm)"><path d="M -12.39 0.18 L 12.39 0.18" stroke-width="1.59"/><path d="M -12.39 2.57 L 12.39 2.57" stroke-width="1.59"/></g><g transform="translate(1048.68 1776.41)" clip-path="url(#cm)"><path d="M -12.39 0.18 L 12.39 0.18" stroke-width="1.59"/><path d="M -12.39 2.57 L 12.39 2.57" stroke-width="1.59"/></g><g transform="translate(1144.06 1776.41)" clip-path="url(#cm)"><path d="M -12.39 0.18 L 12.39 0.18" stroke-width="1.59"/><path d="M -12.39 2.57 L 12.39 2.57" stroke-width="1.59"/></g><g transform="translate(1239.43 1776.41)" clip-path="url(#cm)"><path d="M -12.39 0.18 L 12.39 0.18" stroke-width="1.59"/><path d="M -12.39 2.57 L 12.39 2.57" stroke-width="1.59"/></g><g transform="translate(1334.81 1776.41)" clip-path="url(#cm)"><path d="M -12.39 0.18 L 12.39 0.18" stroke-width="1.59"/><path d="M -12.39 2.57 L 12.39 2.57" stroke-width="1.59"/></g><g transform="translate(1430.19 1776.41)" clip-path="url(#cm)"><path d="M -12.39 -0.53 L 12.39 -0.53" stroke-width="2.32"/></g><g transform="translate(1620.94 1776.41)" clip-path="url(#cm)"><path d="M -12.39 -0.53 L 12.39 -0.53" stroke-width="2.32"/></g><g transform="translate(2383.96 1776.41)" clip-path="url(#cm)"><rect x="5.49" y="-12.39" width="12.39" height="24.77" fill="#000" stroke="none"/><path d="M 3.72 -12.39 L 3.72 12.39" stroke-width="1.45"/></g><g transform="translate(428.73 1835.54)" clip-path="url(#cs)"><path d="M -10.85 -4.26 L 10.85 -4.26" stroke-width="1.89"/><path d="M -10.85 -1.7 L 10.85 -1.7" stroke-width="1.89"/><path d="M -10.85 0.85 L 10.85 0.85" stroke-width="1.89"/><path d="M -10.85 3.41 L 10.85 3.41" stroke-width="1.89"/></g><g transform="translate(1764.01 1835.54)" clip-path="url(#cs)"><rect x="4.8" y="-10.85" width="10.85" height="21.7" fill="#000" stroke="none"/><path d="M 3.25 -10.85 L 3.25 10.85" stroke-width="1.45"/></g><g transform="translate(2336.27 1835.54)" clip-path="url(#cs)"><path d="M -10.85 -2.01 L 10.85 -2.01" stroke-width="2.32"/></g></g>
<g stroke-width="2.8"><circle cx="142.95" cy="1362.9" r="8.8"/><circle cx="238.3" cy="1362.9" r="8.8"/><circle cx="333.65" cy="1362.9" r="8.8"/><circle cx="429" cy="1362.9" r="8.8"/><circle cx="524.35" cy="1362.9" r="8.8"/><circle cx="619.7" cy="1362.9" r="8.8"/><circle cx="715.05" cy="1362.9" r="8.8"/><circle cx="810.4" cy="1362.9" r="8.8"/><circle cx="905.75" cy="1362.9" r="8.8"/><circle cx="1001.1" cy="1362.9" r="8.8"/><circle cx="1096.45" cy="1362.9" r="8.8"/><circle cx="1191.8" cy="1362.9" r="8.8"/><circle cx="1287.15" cy="1362.9" r="8.8"/><circle cx="1382.5" cy="1362.9" r="8.8"/><circle cx="1477.85" cy="1362.9" r="8.8"/><circle cx="1573.2" cy="1362.9" r="8.8"/><circle cx="1668.55" cy="1362.9" r="8.8"/><circle cx="1763.9" cy="1362.9" r="8.8"/><circle cx="1859.25" cy="1362.9" r="8.8"/><circle cx="1954.6" cy="1362.9" r="8.8"/><circle cx="2049.95" cy="1362.9" r="8.8"/><circle cx="2145.3" cy="1362.9" r="8.8"/><circle cx="2240.65" cy="1362.9" r="8.8"/><circle cx="2336" cy="1362.9" r="8.8"/><circle cx="2431.35" cy="1362.9" r="8.8"/><circle cx="2526.7" cy="1362.9" r="8.8"/><circle cx="2622.05" cy="1362.9" r="8.8"/><circle cx="142.95" cy="1481.16" r="8.8"/><circle cx="2622.05" cy="1481.16" r="8.8"/><circle cx="142.95" cy="1599.42" r="8.8"/><circle cx="2622.05" cy="1599.42" r="8.8"/><circle cx="142.95" cy="1717.68" r="8.8"/><circle cx="2622.05" cy="1717.68" r="8.8"/><circle cx="190.62" cy="1776.81" r="8.8"/><circle cx="2574.38" cy="1776.81" r="8.8"/><circle cx="238.3" cy="1835.94" r="8.8"/><circle cx="333.65" cy="1835.94" r="8.8"/><circle cx="429" cy="1835.94" r="8.8"/><circle cx="524.35" cy="1835.94" r="8.8"/><circle cx="619.7" cy="1835.94" r="8.8"/><circle cx="715.05" cy="1835.94" r="8.8"/><circle cx="810.4" cy="1835.94" r="8.8"/><circle cx="905.75" cy="1835.94" r="8.8"/><circle cx="1001.1" cy="1835.94" r="8.8"/><circle cx="1096.45" cy="1835.94" r="8.8"/><circle cx="1191.8" cy="1835.94" r="8.8"/><circle cx="1287.15" cy="1835.94" r="8.8"/><circle cx="1382.5" cy="1835.94" r="8.8"/><circle cx="1477.85" cy="1835.94" r="8.8"/><circle cx="1573.2" cy="1835.94" r="8.8"/><circle cx="1668.55" cy="1835.94" r="8.8"/><circle cx="1763.9" cy="1835.94" r="8.8"/><circle cx="1859.25" cy="1835.94" r="8.8"/><circle cx="1954.6" cy="1835.94" r="8.8"/><circle cx="2049.95" cy="1835.94" r="8.8"/><circle cx="2145.3" cy="1835.94" r="8.8"/><circle cx="2240.65" cy="1835.94" r="8.8"/><circle cx="2336" cy="1835.94" r="8.8"/><circle cx="2431.35" cy="1835.94" r="8.8"/><circle cx="2526.7" cy="1835.94" r="8.8"/></g><g stroke-width="2.9"><circle cx="190.62" cy="1422.03" r="9.9"/><circle cx="285.97" cy="1422.03" r="9.9"/><circle cx="381.32" cy="1422.03" r="9.9"/><circle cx="476.67" cy="1422.03" r="9.9"/><circle cx="572.02" cy="1422.03" r="9.9"/><circle cx="667.37" cy="1422.03" r="9.9"/><circle cx="762.72" cy="1422.03" r="9.9"/><circle cx="858.07" cy="1422.03" r="9.9"/><circle cx="953.42" cy="1422.03" r="9.9"/><circle cx="1048.77" cy="1422.03" r="9.9"/><circle cx="1144.12" cy="1422.03" r="9.9"/><circle cx="1239.47" cy="1422.03" r="9.9"/><circle cx="1334.82" cy="1422.03" r="9.9"/><circle cx="1430.18" cy="1422.03" r="9.9"/><circle cx="1525.53" cy="1422.03" r="9.9"/><circle cx="1620.88" cy="1422.03" r="9.9"/><circle cx="1716.23" cy="1422.03" r="9.9"/><circle cx="1811.58" cy="1422.03" r="9.9"/><circle cx="1906.93" cy="1422.03" r="9.9"/><circle cx="2002.28" cy="1422.03" r="9.9"/><circle cx="2097.63" cy="1422.03" r="9.9"/><circle cx="2192.98" cy="1422.03" r="9.9"/><circle cx="2288.33" cy="1422.03" r="9.9"/><circle cx="2383.68" cy="1422.03" r="9.9"/><circle cx="2479.03" cy="1422.03" r="9.9"/><circle cx="2574.38" cy="1422.03" r="9.9"/><circle cx="190.62" cy="1540.29" r="9.9"/><circle cx="2574.38" cy="1540.29" r="9.9"/><circle cx="190.62" cy="1658.55" r="9.9"/><circle cx="2574.38" cy="1658.55" r="9.9"/><circle cx="238.3" cy="1717.68" r="9.9"/><circle cx="2526.7" cy="1717.68" r="9.9"/><circle cx="285.97" cy="1776.81" r="9.9"/><circle cx="381.32" cy="1776.81" r="9.9"/><circle cx="476.67" cy="1776.81" r="9.9"/><circle cx="572.02" cy="1776.81" r="9.9"/><circle cx="667.37" cy="1776.81" r="9.9"/><circle cx="762.72" cy="1776.81" r="9.9"/><circle cx="858.07" cy="1776.81" r="9.9"/><circle cx="953.42" cy="1776.81" r="9.9"/><circle cx="1048.77" cy="1776.81" r="9.9"/><circle cx="1144.12" cy="1776.81" r="9.9"/><circle cx="1239.47" cy="1776.81" r="9.9"/><circle cx="1334.82" cy="1776.81" r="9.9"/><circle cx="1430.18" cy="1776.81" r="9.9"/><circle cx="1525.53" cy="1776.81" r="9.9"/><circle cx="1620.88" cy="1776.81" r="9.9"/><circle cx="1716.23" cy="1776.81" r="9.9"/><circle cx="1811.58" cy="1776.81" r="9.9"/><circle cx="1906.93" cy="1776.81" r="9.9"/><circle cx="2002.28" cy="1776.81" r="9.9"/><circle cx="2097.63" cy="1776.81" r="9.9"/><circle cx="2192.98" cy="1776.81" r="9.9"/><circle cx="2288.33" cy="1776.81" r="9.9"/><circle cx="2383.68" cy="1776.81" r="9.9"/><circle cx="2479.03" cy="1776.81" r="9.9"/></g><g stroke-width="3.1"><circle cx="238.3" cy="1481.16" r="11.5"/><circle cx="333.65" cy="1481.16" r="11.5"/><circle cx="429" cy="1481.16" r="11.5"/><circle cx="524.35" cy="1481.16" r="11.5"/><circle cx="619.7" cy="1481.16" r="11.5"/><circle cx="715.05" cy="1481.16" r="11.5"/><circle cx="810.4" cy="1481.16" r="11.5"/><circle cx="905.75" cy="1481.16" r="11.5"/><circle cx="1001.1" cy="1481.16" r="11.5"/><circle cx="1096.45" cy="1481.16" r="11.5"/><circle cx="1191.8" cy="1481.16" r="11.5"/><circle cx="1287.15" cy="1481.16" r="11.5"/><circle cx="1382.5" cy="1481.16" r="11.5"/><circle cx="1477.85" cy="1481.16" r="11.5"/><circle cx="1573.2" cy="1481.16" r="11.5"/><circle cx="1668.55" cy="1481.16" r="11.5"/><circle cx="1763.9" cy="1481.16" r="11.5"/><circle cx="1859.25" cy="1481.16" r="11.5"/><circle cx="1954.6" cy="1481.16" r="11.5"/><circle cx="2049.95" cy="1481.16" r="11.5"/><circle cx="2145.3" cy="1481.16" r="11.5"/><circle cx="2240.65" cy="1481.16" r="11.5"/><circle cx="2336" cy="1481.16" r="11.5"/><circle cx="2431.35" cy="1481.16" r="11.5"/><circle cx="2526.7" cy="1481.16" r="11.5"/><circle cx="285.97" cy="1540.29" r="11.5"/><circle cx="381.32" cy="1540.29" r="11.5"/><circle cx="476.67" cy="1540.29" r="11.5"/><circle cx="572.02" cy="1540.29" r="11.5"/><circle cx="667.37" cy="1540.29" r="11.5"/><circle cx="762.72" cy="1540.29" r="11.5"/><circle cx="858.07" cy="1540.29" r="11.5"/><circle cx="953.42" cy="1540.29" r="11.5"/><circle cx="1048.77" cy="1540.29" r="11.5"/><circle cx="1144.12" cy="1540.29" r="11.5"/><circle cx="1239.47" cy="1540.29" r="11.5"/><circle cx="1334.82" cy="1540.29" r="11.5"/><circle cx="1430.18" cy="1540.29" r="11.5"/><circle cx="1525.53" cy="1540.29" r="11.5"/><circle cx="1620.88" cy="1540.29" r="11.5"/><circle cx="1716.23" cy="1540.29" r="11.5"/><circle cx="1811.58" cy="1540.29" r="11.5"/><circle cx="1906.93" cy="1540.29" r="11.5"/><circle cx="2002.28" cy="1540.29" r="11.5"/><circle cx="2097.63" cy="1540.29" r="11.5"/><circle cx="2192.98" cy="1540.29" r="11.5"/><circle cx="2288.33" cy="1540.29" r="11.5"/><circle cx="2383.68" cy="1540.29" r="11.5"/><circle cx="2479.03" cy="1540.29" r="11.5"/><circle cx="238.3" cy="1599.42" r="11.5"/><circle cx="333.65" cy="1599.42" r="11.5"/><circle cx="429" cy="1599.42" r="11.5"/><circle cx="524.35" cy="1599.42" r="11.5"/><circle cx="619.7" cy="1599.42" r="11.5"/><circle cx="715.05" cy="1599.42" r="11.5"/><circle cx="810.4" cy="1599.42" r="11.5"/><circle cx="905.75" cy="1599.42" r="11.5"/><circle cx="1001.1" cy="1599.42" r="11.5"/><circle cx="1096.45" cy="1599.42" r="11.5"/><circle cx="1191.8" cy="1599.42" r="11.5"/><circle cx="1287.15" cy="1599.42" r="11.5"/><circle cx="1382.5" cy="1599.42" r="11.5"/><circle cx="1477.85" cy="1599.42" r="11.5"/><circle cx="1573.2" cy="1599.42" r="11.5"/><circle cx="1668.55" cy="1599.42" r="11.5"/><circle cx="1763.9" cy="1599.42" r="11.5"/><circle cx="1859.25" cy="1599.42" r="11.5"/><circle cx="1954.6" cy="1599.42" r="11.5"/><circle cx="2049.95" cy="1599.42" r="11.5"/><circle cx="2145.3" cy="1599.42" r="11.5"/><circle cx="2240.65" cy="1599.42" r="11.5"/><circle cx="2336" cy="1599.42" r="11.5"/><circle cx="2431.35" cy="1599.42" r="11.5"/><circle cx="2526.7" cy="1599.42" r="11.5"/><circle cx="285.97" cy="1658.55" r="11.5"/><circle cx="381.32" cy="1658.55" r="11.5"/><circle cx="476.67" cy="1658.55" r="11.5"/><circle cx="572.02" cy="1658.55" r="11.5"/><circle cx="667.37" cy="1658.55" r="11.5"/><circle cx="762.72" cy="1658.55" r="11.5"/><circle cx="858.07" cy="1658.55" r="11.5"/><circle cx="953.42" cy="1658.55" r="11.5"/><circle cx="1048.77" cy="1658.55" r="11.5"/><circle cx="1144.12" cy="1658.55" r="11.5"/><circle cx="1239.47" cy="1658.55" r="11.5"/><circle cx="1334.82" cy="1658.55" r="11.5"/><circle cx="1430.18" cy="1658.55" r="11.5"/><circle cx="1525.53" cy="1658.55" r="11.5"/><circle cx="1620.88" cy="1658.55" r="11.5"/><circle cx="1716.23" cy="1658.55" r="11.5"/><circle cx="1811.58" cy="1658.55" r="11.5"/><circle cx="1906.93" cy="1658.55" r="11.5"/><circle cx="2002.28" cy="1658.55" r="11.5"/><circle cx="2097.63" cy="1658.55" r="11.5"/><circle cx="2192.98" cy="1658.55" r="11.5"/><circle cx="2288.33" cy="1658.55" r="11.5"/><circle cx="2383.68" cy="1658.55" r="11.5"/><circle cx="2479.03" cy="1658.55" r="11.5"/><circle cx="333.65" cy="1717.68" r="11.5"/><circle cx="429" cy="1717.68" r="11.5"/><circle cx="524.35" cy="1717.68" r="11.5"/><circle cx="619.7" cy="1717.68" r="11.5"/><circle cx="715.05" cy="1717.68" r="11.5"/><circle cx="810.4" cy="1717.68" r="11.5"/><circle cx="905.75" cy="1717.68" r="11.5"/><circle cx="1001.1" cy="1717.68" r="11.5"/><circle cx="1096.45" cy="1717.68" r="11.5"/><circle cx="1191.8" cy="1717.68" r="11.5"/><circle cx="1287.15" cy="1717.68" r="11.5"/><circle cx="1382.5" cy="1717.68" r="11.5"/><circle cx="1477.85" cy="1717.68" r="11.5"/><circle cx="1573.2" cy="1717.68" r="11.5"/><circle cx="1668.55" cy="1717.68" r="11.5"/><circle cx="1763.9" cy="1717.68" r="11.5"/><circle cx="1859.25" cy="1717.68" r="11.5"/><circle cx="1954.6" cy="1717.68" r="11.5"/><circle cx="2049.95" cy="1717.68" r="11.5"/><circle cx="2145.3" cy="1717.68" r="11.5"/><circle cx="2240.65" cy="1717.68" r="11.5"/><circle cx="2336" cy="1717.68" r="11.5"/><circle cx="2431.35" cy="1717.68" r="11.5"/></g>
</g>
<defs><g id="logo" fill="#000">
<path transform="rotate(0)" d="M -38.48 -82.93 A 39.3 39.3 0 1 1 20.77 -57.54 C 14.87 -53.09 8.29 -53.64 1.5 -50.7 C -5.29 -47.76 -13.65 -44.45 -20 -39.9 C -26.35 -35.35 -32.73 -28.65 -36.6 -23.4 C -40.47 -18.15 -41.68 -12.82 -43.2 -8.4 C -44.72 -3.98 -45.13 -0.63 -45.7 3.1 L -58.5 -5.1 C -54.25 -8.88 -50.15 -11.72 -46.5 -16.7 C -42.85 -21.68 -38.8 -28.65 -36.6 -35 C -34.4 -41.35 -32.99 -46.81 -33.3 -54.8 C -33.61 -62.79 -38.16 -74.01 -38.48 -82.93 Z"/>
<path transform="rotate(120)" d="M -38.48 -82.93 A 39.3 39.3 0 1 1 20.77 -57.54 C 14.87 -53.09 8.29 -53.64 1.5 -50.7 C -5.29 -47.76 -13.65 -44.45 -20 -39.9 C -26.35 -35.35 -32.73 -28.65 -36.6 -23.4 C -40.47 -18.15 -41.68 -12.82 -43.2 -8.4 C -44.72 -3.98 -45.13 -0.63 -45.7 3.1 L -58.5 -5.1 C -54.25 -8.88 -50.15 -11.72 -46.5 -16.7 C -42.85 -21.68 -38.8 -28.65 -36.6 -35 C -34.4 -41.35 -32.99 -46.81 -33.3 -54.8 C -33.61 -62.79 -38.16 -74.01 -38.48 -82.93 Z"/>
<path transform="rotate(240)" d="M -38.48 -82.93 A 39.3 39.3 0 1 1 20.77 -57.54 C 14.87 -53.09 8.29 -53.64 1.5 -50.7 C -5.29 -47.76 -13.65 -44.45 -20 -39.9 C -26.35 -35.35 -32.73 -28.65 -36.6 -23.4 C -40.47 -18.15 -41.68 -12.82 -43.2 -8.4 C -44.72 -3.98 -45.13 -0.63 -45.7 3.1 L -58.5 -5.1 C -54.25 -8.88 -50.15 -11.72 -46.5 -16.7 C -42.85 -21.68 -38.8 -28.65 -36.6 -35 C -34.4 -41.35 -32.99 -46.81 -33.3 -54.8 C -33.61 -62.79 -38.16 -74.01 -38.48 -82.93 Z"/>
</g></defs>
<use href="#logo" transform="translate(1382.6 1084.2)" stroke="none"/>
<use href="#logo" transform="translate(968.9 688.3) rotate(-90) scale(0.2195)" style="stroke:#000;stroke-width:3.8"/>
<g id="labels">
<g transform="translate(855.4 60.6) scale(1 1.03)"><text x="0" y="0" font-size="83.5" text-anchor="middle">1</text><rect x="-18.36" y="-7.84" width="16.14" height="9.24" fill="#fff" stroke="none"/><rect x="5.16" y="-7.84" width="15.48" height="9.24" fill="#fff" stroke="none"/></g>
<g transform="translate(968.9 60.6) scale(1 1.03)"><text x="0" y="0" font-size="83.5" text-anchor="middle">2</text></g>
<g transform="translate(1158.1 60.6) scale(1 1.03)"><text x="0" y="0" font-size="83.5" text-anchor="middle">3</text></g>
<g transform="translate(1387.4 59.2) scale(1 1.03)"><text x="0" y="0" font-size="83.5" text-anchor="middle">4</text></g>
<g transform="translate(1741.6 59.6) scale(1 1.03)"><text x="0" y="0" font-size="83.5" text-anchor="middle">5</text></g>
<line x1="851" y1="112" x2="851" y2="527.5" stroke-width="2.6"/>
<line x1="969.3" y1="112" x2="969.3" y2="527.5" stroke-width="2.6"/>
<line x1="1147.3" y1="112" x2="1147.3" y2="526.3" stroke-width="2.6"/>
<path d="M 1085.3 555.6 L 1085.3 526.3 L 1209.2 526.3 L 1209.2 555.6" stroke-width="2.6" fill="none" stroke-linejoin="miter"/>
<line x1="1385.1" y1="112" x2="1385.1" y2="526.3" stroke-width="2.6"/>
<path d="M 1322 555.6 L 1322 526.3 L 1445.8 526.3 L 1445.8 555.6" stroke-width="2.6" fill="none" stroke-linejoin="miter"/>
<line x1="1740" y1="112" x2="1740" y2="526.3" stroke-width="2.6"/>
<path d="M 1559 555.6 L 1559 526.3 L 1914.6 526.3 L 1914.6 555.6" stroke-width="2.6" fill="none" stroke-linejoin="miter"/>
</g>
<g id="leds" stroke-width="3.5">
<rect x="840.75" y="567.5" width="20.7" height="58.4" rx="8.7" ry="10.4"/>
<rect x="958.82" y="567.5" width="20.7" height="58.4" rx="8.7" ry="10.4"/>
<rect x="1076.89" y="567.5" width="20.7" height="58.4" rx="8.7" ry="10.4"/>
<rect x="1194.96" y="567.5" width="20.7" height="58.4" rx="8.7" ry="10.4"/>
<rect x="1313.03" y="567.5" width="20.7" height="58.4" rx="8.7" ry="10.4"/>
<rect x="1431.1" y="567.5" width="20.7" height="58.4" rx="8.7" ry="10.4"/>
<rect x="1549.17" y="567.5" width="20.7" height="58.4" rx="8.7" ry="10.4"/>
<rect x="1667.24" y="567.5" width="20.7" height="58.4" rx="8.7" ry="10.4"/>
<rect x="1785.31" y="567.5" width="20.7" height="58.4" rx="8.7" ry="10.4"/>
<rect x="1903.38" y="567.5" width="20.7" height="58.4" rx="8.7" ry="10.4"/>
</g>
<g id="nums" style="will-change:transform">
<g transform="translate(1102.14 657.4) rotate(-90) scale(1 1.07)"><text x="0" y="0" font-size="37.4" text-anchor="middle" font-weight="bold">1</text><rect x="-9.54" y="-5.42" width="7.87" height="6.82" fill="#fff" stroke="none"/><rect x="3.46" y="-5.42" width="7.4" height="6.82" fill="#fff" stroke="none"/></g>
<g transform="translate(1220.21 660.9) rotate(-90) scale(1 1.07)"><text x="0" y="0" font-size="37.4" text-anchor="middle" font-weight="bold">2</text></g>
<g transform="translate(1338.28 657.4) rotate(-90) scale(1 1.07)"><text x="0" y="0" font-size="37.4" text-anchor="middle" font-weight="bold">1</text><rect x="-9.54" y="-5.42" width="7.87" height="6.82" fill="#fff" stroke="none"/><rect x="3.46" y="-5.42" width="7.4" height="6.82" fill="#fff" stroke="none"/></g>
<g transform="translate(1456.35 660.9) rotate(-90) scale(1 1.07)"><text x="0" y="0" font-size="37.4" text-anchor="middle" font-weight="bold">2</text></g>
<g transform="translate(1572.82 660) rotate(-90) scale(1 1.07)"><text x="0" y="0" font-size="36" text-anchor="middle">3</text></g>
<g transform="translate(1690.89 660) rotate(-90) scale(1 1.07)"><text x="0" y="0" font-size="36" text-anchor="middle">4</text></g>
<g transform="translate(1808.96 660) rotate(-90) scale(1 1.07)"><text x="0" y="0" font-size="36" text-anchor="middle">5</text></g>
<g transform="translate(1927.03 660) rotate(-90) scale(1 1.07)"><text x="0" y="0" font-size="36" text-anchor="middle">6</text></g>
</g>
<g id="brackets" stroke-width="2.8">
<path d="M 1047.2 650.8 L 1047.2 715.9 A 10.5 10.5 0 0 0 1057.7 726.4 L 1106.2 726.4" stroke-width="2.1" fill="none"/>
<path d="M 1248 650.8 L 1248 715.9 A 10.5 10.5 0 0 1 1237.5 726.4 L 1188.9 726.4" stroke-width="2.1" fill="none"/>
<circle cx="1047.2" cy="650.8" r="3.45" fill="#000" stroke="none"/>
<circle cx="1106.2" cy="726.4" r="3.45" fill="#000" stroke="none"/>
<circle cx="1188.9" cy="726.4" r="3.45" fill="#000" stroke="none"/>
<circle cx="1248" cy="650.8" r="3.45" fill="#000" stroke="none"/>
<path d="M 1282.7 650.8 L 1282.7 715.9 A 10.5 10.5 0 0 0 1293.2 726.4 L 1341.6 726.4" stroke-width="2.1" fill="none"/>
<path d="M 1483.3 650.8 L 1483.3 715.9 A 10.5 10.5 0 0 1 1472.8 726.4 L 1424.3 726.4" stroke-width="2.1" fill="none"/>
<circle cx="1282.7" cy="650.8" r="3.45" fill="#000" stroke="none"/>
<circle cx="1341.6" cy="726.4" r="3.45" fill="#000" stroke="none"/>
<circle cx="1424.3" cy="726.4" r="3.45" fill="#000" stroke="none"/>
<circle cx="1483.3" cy="650.8" r="3.45" fill="#000" stroke="none"/>
<path d="M 1518.2 650.8 L 1518.2 715.9 A 10.5 10.5 0 0 0 1528.7 726.4 L 1695.7 726.4" stroke-width="2.1" fill="none"/>
<path d="M 1955.4 650.8 L 1955.4 715.9 A 10.5 10.5 0 0 1 1944.9 726.4 L 1777.9 726.4" stroke-width="2.1" fill="none"/>
<circle cx="1518.2" cy="650.8" r="3.45" fill="#000" stroke="none"/>
<circle cx="1695.7" cy="726.4" r="3.45" fill="#000" stroke="none"/>
<circle cx="1777.9" cy="726.4" r="3.45" fill="#000" stroke="none"/>
<circle cx="1955.4" cy="650.8" r="3.45" fill="#000" stroke="none"/>
</g>
<g id="icons">
<path d="M 837.55 677.46 A 17.65 17.65 0 1 1 837.55 699.34" stroke-width="5.9" fill="none" stroke-linecap="round"/>
<line x1="833.9" y1="688.4" x2="843.6" y2="688.4" stroke-width="5.8" stroke-linecap="round"/>
<circle cx="1146.66" cy="754.8" r="6.35" fill="#000" stroke="none"/>
<line x1="1146.66" y1="754" x2="1146.66" y2="698" stroke-width="2.7"/>
<path d="M 1146.66 690.6 L 1142.86 699.4 L 1150.46 699.4 Z" fill="#000" stroke="none"/>
<circle cx="1135.3" cy="719.8" r="4.3" fill="#000" stroke="none"/>
<path d="M 1135.3 720 L 1135.3 728.5 Q 1135.3 731 1137.3 733 L 1143.5 739 Q 1146.6 742 1146.66 747" stroke-width="2.7" fill="none"/>
<rect x="1153.8" y="705.3" width="8.9" height="8.4" fill="#000" stroke="none"/>
<path d="M 1158.3 713 L 1158.3 718.5 Q 1158.3 721 1156.3 722.7 L 1149.5 728.5 Q 1146.66 731 1146.66 735" stroke-width="2.7" fill="none"/>
<path d="M 1383.45 719.5 L 1406.65 719.5 M 1383.45 719.5 L 1403.54 731.1 M 1383.45 719.5 L 1395.05 739.59 M 1383.45 719.5 L 1383.45 756.5 M 1383.45 719.5 L 1371.85 739.59 M 1383.45 719.5 L 1363.36 731.1 M 1383.45 719.5 L 1360.25 719.5 M 1383.45 719.5 L 1363.36 707.9 M 1383.45 719.5 L 1371.85 699.41 M 1383.45 719.5 L 1383.45 696.3 M 1383.45 719.5 L 1395.05 699.41 M 1383.45 719.5 L 1403.54 707.9 M 1383.45 719.5 L 1398.23 723.46 M 1383.45 719.5 L 1394.27 730.32 M 1383.45 719.5 L 1387.41 734.28 M 1383.45 719.5 L 1379.49 734.28 M 1383.45 719.5 L 1372.63 730.32 M 1383.45 719.5 L 1368.67 723.46 M 1383.45 719.5 L 1368.67 715.54 M 1383.45 719.5 L 1372.63 708.68 M 1383.45 719.5 L 1379.49 704.72 M 1383.45 719.5 L 1387.41 704.72 M 1383.45 719.5 L 1394.27 708.68 M 1383.45 719.5 L 1398.23 715.54" stroke-width="2.75" fill="none"/>
<circle cx="1383.45" cy="719.5" r="7.8" fill="#000" stroke="none"/>
<g fill="#000" stroke="none">
<rect x="1734.7" y="696.7" width="4" height="59"/>
<rect x="1744.4" y="701.4" width="12.5" height="12.3"/>
<rect x="1737" y="705.4" width="9" height="4.1"/>
<rect x="1716.5" y="720" width="12.3" height="12"/>
<rect x="1727" y="724" width="9" height="3.9"/>
<rect x="1744.4" y="738.3" width="12.5" height="12.4"/>
<rect x="1737" y="742.4" width="9" height="4.1"/>
</g>
</g>
</svg></body></html>
